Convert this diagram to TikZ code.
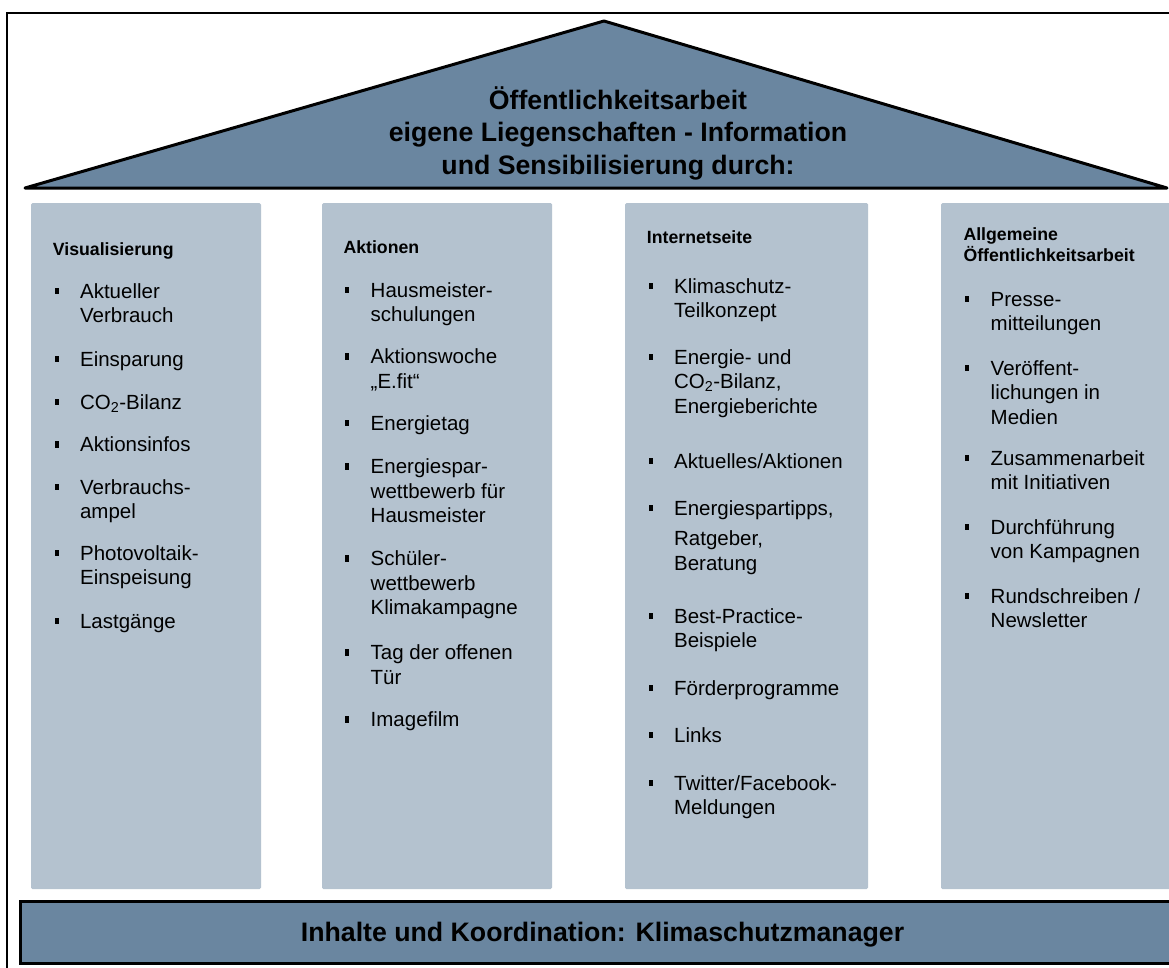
\documentclass[tikz,border=0pt]{standalone}
\usepackage{fontspec}
\setmainfont{Liberation Sans}
\definecolor{roofblue}{HTML}{6A86A0}
\definecolor{pillar}{HTML}{B4C2CF}

% one bullet point: name, left edge of the column text, first baseline,
% offset of the last baseline below the first, text
\newcommand\pitem[5]{%
  \node[bulletmark] (#1m) at (#2+4,#3-7) {};
  \node[itemtext] (#1) at (#2+27.2,#3+#4) {#5};%
}

\begin{document}
\begin{tikzpicture}[x=1pt,y=-1pt,
  pillarbox/.style={fill=pillar,rounded corners=1.5,inner sep=0,draw=none},
  barbox/.style={fill=roofblue,draw=black,line width=3,inner sep=0},
  titletext/.style={align=center,inner sep=0,font=\fontsize{26.7}{32.5}\selectfont\bfseries},
  headtext/.style={anchor=base west,align=left,inner sep=0,font=\fontsize{17.7}{21}\selectfont\bfseries},
  itemtext/.style={anchor=base west,align=left,inner sep=0,font=\fontsize{20.5}{24.5}\selectfont},
  bulletmark/.style={fill=black,draw=none,inner sep=0,minimum width=4.3,minimum height=6.8}]
\useasboundingbox (0,0) rectangle (1169,967);
\clip (0,0) rectangle (1169,967);
\fill[white] (0,0) rectangle (1169,967);

% outer frame
\draw[line width=2] (7.3,975) -- (7.3,12.7) -- (1180,12.7);

% roof
\coordinate (roofL) at (25,188);
\coordinate (roofT) at (604,21);
\coordinate (roofR) at (1167,188);
\filldraw[fill=roofblue,draw=black,line width=3,line join=round,line cap=round]
  (roofL) -- (roofT) -- (roofR) -- cycle;
\node[titletext,anchor=base] (title) at (618,174)
  {Öffentlichkeitsarbeit\\eigene Liegenschaften - Information\\und Sensibilisierung durch:};

% pillars
\node[pillarbox,minimum width=230,minimum height=686] (colA) at (146,546) {};
\node[pillarbox,minimum width=230,minimum height=686] (colB) at (437,546) {};
\node[pillarbox,minimum width=243,minimum height=686] (colC) at (746.5,546) {};
\node[pillarbox,minimum width=260,minimum height=686] (colD) at (1071,546) {};

% base bar
\node[barbox,minimum width=1170,minimum height=61.3] (bar) at (605.5,932.6) {};
\node[anchor=base,inner sep=0,font=\fontsize{26.7}{32}\selectfont\bfseries] (barlabel) at (602.5,941)
  {Inhalte und Koordination: Klimaschutzmanager};

% column 1
\node[headtext] (hA) at (52.7,255.5) {Visualisierung};
\pitem{a1}{52.7}{298}{24.5}{Aktueller\\Verbrauch}
\pitem{a2}{52.7}{366}{0}{Einsparung}
\pitem{a3}{52.7}{409}{0}{CO\textsubscript{2}-Bilanz}
\pitem{a4}{52.7}{451.5}{0}{Aktionsinfos}
\pitem{a5}{52.7}{494}{24.5}{Verbrauchs-\\ampel}
\pitem{a6}{52.7}{560}{24.5}{Photovoltaik-\\Einspeisung}
\pitem{a7}{52.7}{628}{0}{Lastgänge}

% column 2
\node[headtext] (hB) at (343.3,253.5) {Aktionen};
\pitem{b1}{343.3}{297}{24.5}{Hausmeister-\\schulungen}
\pitem{b2}{343.3}{363.5}{24.5}{Aktionswoche\\„E.fit“}
\pitem{b3}{343.3}{430}{0}{Energietag}
\pitem{b4}{343.3}{473.5}{49}{Energiespar-\\wettbewerb für\\Hausmeister}
\pitem{b5}{343.3}{565.5}{49}{Schüler-\\wettbewerb\\Klimakampagne}
\pitem{b6}{343.3}{659.5}{24.5}{Tag der offenen\\Tür}
\pitem{b7}{343.3}{726.5}{0}{Imagefilm}

% column 3
\node[headtext] (hC) at (646.7,243) {Internetseite};
\pitem{c1}{646.7}{293}{24.5}{Klimaschutz-\\Teilkonzept}
\pitem{c2}{646.7}{364}{49}{Energie- und\\CO\textsubscript{2}-Bilanz,\\Energieberichte}
\pitem{c3}{646.7}{468}{0}{Aktuelles/Aktionen}
\pitem{c4}{646.7}{515}{55}{Energiespartipps,\\[6pt]Ratgeber,\\Beratung}
\pitem{c5}{646.7}{623}{24.5}{Best-Practice-\\Beispiele}
\pitem{c6}{646.7}{695}{0}{Förderprogramme}
\pitem{c7}{646.7}{742}{0}{Links}
\pitem{c8}{646.7}{790}{24.5}{Twitter/Facebook-\\Meldungen}

% column 4
\node[headtext] (hD) at (963.3,261) {Allgemeine\\Öffentlichkeitsarbeit};
\pitem{d1}{963.3}{306}{24.5}{Presse-\\mitteilungen}
\pitem{d2}{963.3}{375}{49}{Veröffent-\\lichungen in\\Medien}
\pitem{d3}{963.3}{465}{24.5}{Zusammenarbeit\\mit Initiativen}
\pitem{d4}{963.3}{534}{24.5}{Durchführung\\von Kampagnen}
\pitem{d5}{963.3}{603}{24.5}{Rundschreiben /\\Newsletter}
\end{tikzpicture}
\end{document}
